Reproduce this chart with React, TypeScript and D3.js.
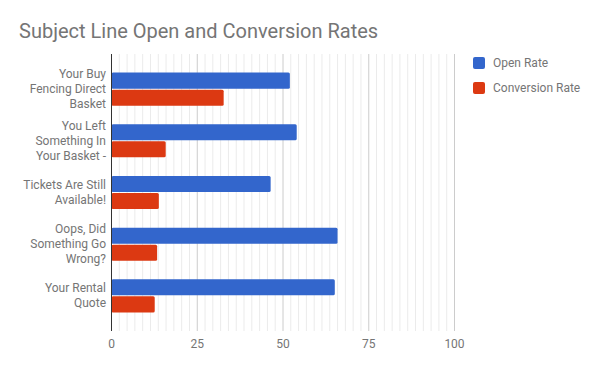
import React from "react";
import * as d3 from "d3";

const categories = [
  ["Your Buy", "Fencing Direct", "Basket"],
  ["You Left", "Something In", "Your Basket -"],
  ["Tickets Are Still", "Available!"],
  ["Oops, Did", "Something Go", "Wrong?"],
  ["Your Rental", "Quote"],
];
const openRate = [52.0, 54.0, 46.4, 65.9, 65.1];
const conversionRate = [32.7, 15.8, 13.8, 13.3, 12.6];
const seriesNames = ["Open Rate", "Conversion Rate"];
const seriesColors = ["#3366cc", "#dc3912"];
const xTicks = [0, 25, 50, 75, 100];

const WIDTH = 600;
const HEIGHT = 371;
const MARGIN = { top: 54, left: 111.5, right: 145.5, bottom: 40 };
const FONT = "Roboto, 'Noto Sans', sans-serif";
const TEXT = "#757575";

export default function App() {
  const plotBottom = HEIGHT - MARGIN.bottom;
  const plotRight = WIDTH - MARGIN.right;

  const xScale = d3.scaleLinear().domain([0, 100]).range([MARGIN.left, plotRight]);
  const yScale = d3
    .scaleBand<number>()
    .domain(d3.range(categories.length))
    .range([MARGIN.top, plotBottom])
    .padding(0.36);
  const inner = d3
    .scaleBand<number>()
    .domain([0, 1])
    .range([0, yScale.bandwidth()])
    .paddingInner(0.06);

  // 10 minor lines between each pair of major ticks
  const minor: number[] = [];
  for (let i = 0; i < xTicks.length - 1; i++) {
    const step = (xTicks[i + 1] - xTicks[i]) / 11;
    for (let k = 1; k < 11; k++) minor.push(xTicks[i] + step * k);
  }

  const series = [openRate, conversionRate];

  return (
    <svg
      width={WIDTH}
      height={HEIGHT}
      style={{ position: "absolute", left: 0, top: 0, background: "#fff" }}
      fontFamily={FONT}
    >
      <text x={19} y={38} fontSize={20} fill={TEXT}>
        Subject Line Open and Conversion Rates
      </text>

      {minor.map((v, i) => (
        <line key={"m" + i} x1={xScale(v)} x2={xScale(v)} y1={MARGIN.top} y2={plotBottom} stroke="#ebebeb" />
      ))}
      {xTicks.slice(1).map((v) => (
        <line key={"g" + v} x1={xScale(v)} x2={xScale(v)} y1={MARGIN.top} y2={plotBottom} stroke="#cccccc" />
      ))}

      {categories.map((_, ci) => (
        <g key={ci} transform={`translate(0,${yScale(ci)})`}>
          {series.map((s, si) => (
            <rect
              key={si}
              x={xScale(0)}
              y={inner(si)}
              width={xScale(s[ci]) - xScale(0)}
              height={inner.bandwidth()}
              fill={seriesColors[si]}
              rx={1.5}
            />
          ))}
        </g>
      ))}

      <line x1={xScale(0)} x2={xScale(0)} y1={MARGIN.top} y2={plotBottom} stroke="#333" />

      {categories.map((lines, ci) => {
        const cy = (yScale(ci) ?? 0) + yScale.bandwidth() / 2;
        const lh = 15;
        const start = cy - ((lines.length - 1) * lh) / 2;
        return (
          <text key={ci} textAnchor="end" fontSize={12} fill={TEXT}>
            {lines.map((l, li) => (
              <tspan key={li} x={106} y={start + li * lh} dominantBaseline="central">
                {l}
              </tspan>
            ))}
          </text>
        );
      })}

      {xTicks.map((v) => (
        <text key={v} x={xScale(v)} y={344} textAnchor="middle" dominantBaseline="central" fontSize={12} fill={TEXT}>
          {v}
        </text>
      ))}

      {seriesNames.map((name, i) => (
        <g key={name} transform={`translate(473,${57 + i * 25})`}>
          <rect width={12} height={12} rx={2} fill={seriesColors[i]} />
          <text x={20} y={6} dominantBaseline="central" fontSize={12} fill={TEXT}>
            {name}
          </text>
        </g>
      ))}
    </svg>
  );
}
